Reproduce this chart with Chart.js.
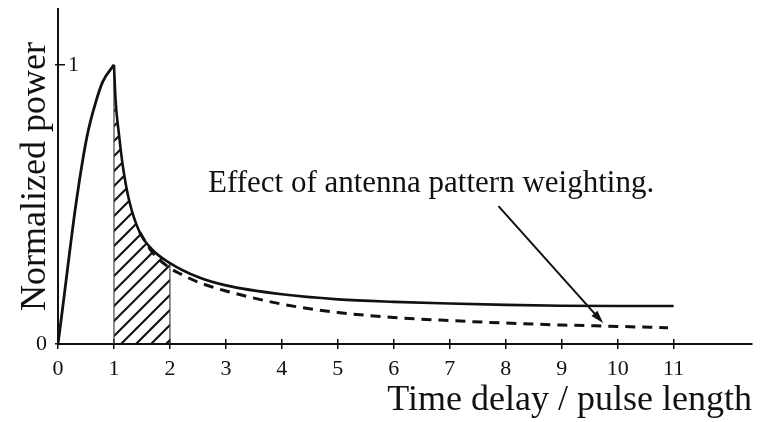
<!DOCTYPE html>
<html>
<head>
<meta charset="utf-8">
<script src="https://cdn.jsdelivr.net/npm/chart.js@4.4.0/dist/chart.umd.min.js"></script>
<style>
  html, body { margin: 0; padding: 0; background: #fff; }
  canvas { display: block; }
</style>
</head>
<body>
<canvas id="powerChart" width="773" height="422"></canvas>
<script>
// values (x = time delay / pulse length, y = normalized power)
var riseX = [0, 0.09, 0.32, 0.52, 0.68, 0.8, 1.0];
var riseY = [0, 0.14, 0.50, 0.745, 0.87, 0.94, 1.0];
var decayX = [1.0, 1.03, 1.09, 1.16, 1.27, 1.46, 1.7, 2.0, 2.5, 3, 4, 5, 6, 7, 8, 9, 10, 11];
var decayY = [1.0, 0.87, 0.75, 0.635, 0.515, 0.40, 0.335, 0.29, 0.24, 0.21, 0.178, 0.160, 0.151, 0.145, 0.140, 0.137, 0.136, 0.136];
var weightedX = [1.46, 1.7, 2.0, 2.2, 2.5, 3, 4, 5, 6, 7, 8, 9, 10, 10.9];
var weightedY = [0.40, 0.325, 0.272, 0.25, 0.222, 0.19, 0.143, 0.113, 0.095, 0.084, 0.075, 0.068, 0.063, 0.058];
var hatchFrom = 1, hatchTo = 2;
var xTicks = [0, 1, 2, 3, 4, 5, 6, 7, 8, 9, 10, 11];
var yTicksLeft = [0];
var yTicksRight = [1];

var noteText = 'Effect of antenna pattern weighting.';
var notePos = [2.68, 0.544];
var arrowFrom = [7.87, 0.494];
var arrowTo = [9.74, 0.075];

function pts(xs, ys) {
  return xs.map(function (x, i) { return {x: x, y: ys[i]}; });
}
function valueAt(x) {
  return decayY[decayX.indexOf(x)];
}
function noPad(s) {
  s.paddingTop = 0; s.paddingBottom = 0; s.paddingLeft = 0; s.paddingRight = 0;
}

// diagonal hatching for the shaded interval
var pc = document.createElement('canvas');
pc.width = 15; pc.height = 15;
var p = pc.getContext('2d');
p.strokeStyle = '#111';
p.lineWidth = 2.1;
p.beginPath();
p.moveTo(-2, 17); p.lineTo(17, -2);
p.moveTo(-9, 9); p.lineTo(9, -9);
p.moveTo(6, 24); p.lineTo(24, 6);
p.stroke();
var hatch = p.createPattern(pc, 'repeat');

var hatchData = pts(decayX, decayY).filter(function (d) { return d.x >= hatchFrom && d.x <= hatchTo; });
var edgeData = [
  {x: hatchFrom, y: 0}, {x: hatchFrom, y: valueAt(hatchFrom)}, {x: (hatchFrom + hatchTo) / 2, y: null},
  {x: hatchTo, y: 0}, {x: hatchTo, y: valueAt(hatchTo)}
];

var notePlugin = {
  id: 'note',
  afterDatasetsDraw: function (chart) {
    var c = chart.ctx, xs = chart.scales.x, ys = chart.scales.y;
    c.save();
    c.fillStyle = '#111';
    c.font = '31px "Liberation Serif"';
    c.textBaseline = 'alphabetic';
    c.fillText(noteText, xs.getPixelForValue(notePos[0]), ys.getPixelForValue(notePos[1]));
    var x1 = xs.getPixelForValue(arrowFrom[0]), y1 = ys.getPixelForValue(arrowFrom[1]);
    var x2 = xs.getPixelForValue(arrowTo[0]), y2 = ys.getPixelForValue(arrowTo[1]);
    var a = Math.atan2(y2 - y1, x2 - x1);
    c.strokeStyle = '#111';
    c.lineWidth = 2;
    c.beginPath();
    c.moveTo(x1, y1);
    c.lineTo(x2 - 8 * Math.cos(a), y2 - 8 * Math.sin(a));
    c.stroke();
    c.beginPath();
    c.moveTo(x2, y2);
    c.lineTo(x2 - 13 * Math.cos(a) + 4 * Math.sin(a), y2 - 13 * Math.sin(a) - 4 * Math.cos(a));
    c.lineTo(x2 - 13 * Math.cos(a) - 4 * Math.sin(a), y2 - 13 * Math.sin(a) + 4 * Math.cos(a));
    c.closePath();
    c.fill();
    c.restore();
  }
};

Chart.defaults.font.family = '"Liberation Serif", "Times New Roman", serif';
Chart.defaults.color = '#111';

new Chart(document.getElementById('powerChart'), {
  type: 'line',
  data: {
    datasets: [
      { data: pts(riseX, riseY), borderColor: '#111', borderWidth: 2.8, cubicInterpolationMode: 'monotone' },
      { data: pts(decayX, decayY), borderColor: '#111', borderWidth: 2.6, cubicInterpolationMode: 'monotone' },
      { data: pts(weightedX, weightedY), borderColor: '#111', borderWidth: 3, borderDash: [10, 7], cubicInterpolationMode: 'monotone' },
      { data: edgeData, borderColor: '#444', borderWidth: 1.2, spanGaps: false },
      { data: hatchData, borderWidth: 0, fill: 'origin', backgroundColor: hatch, cubicInterpolationMode: 'monotone' }
    ]
  },
  options: {
    responsive: false,
    animation: false,
    parsing: false,
    elements: { point: { radius: 0 } },
    layout: { padding: { top: 9, right: 21, bottom: 0, left: 0 } },
    plugins: { legend: { display: false }, tooltip: { enabled: false } },
    scales: {
      x: {
        type: 'linear', min: 0, max: 12.4, weight: 1,
        afterBuildTicks: function (s) { s.ticks = xTicks.map(function (v) { return {value: v}; }); },
        afterFit: function (s) { s.height = 78; noPad(s); },
        border: { display: true, color: '#111', width: 2 },
        grid: { drawOnChartArea: false, drawTicks: true, tickLength: 5, color: '#111', lineWidth: 1.5 },
        ticks: { font: { size: 22 }, padding: 7, maxRotation: 0, autoSkip: false },
        title: { display: true, text: 'Time delay / pulse length', align: 'end', font: { size: 36 }, padding: { top: 0, bottom: 0 } }
      },
      x2: {
        type: 'linear', position: 'bottom', min: 0, max: 12.4, weight: 0,
        afterBuildTicks: function (s) { s.ticks = xTicks.map(function (v) { return {value: v}; }); },
        afterFit: function (s) { s.height = 0; noPad(s); },
        border: { display: false },
        grid: { drawOnChartArea: false, drawTicks: true, tickLength: -5, color: '#111', lineWidth: 1.5 },
        ticks: { display: false }
      },
      y: {
        type: 'linear', min: 0, max: 1.2, weight: 1,
        afterBuildTicks: function (s) { s.ticks = yTicksLeft.concat(yTicksRight).map(function (v) { return {value: v}; }); },
        afterFit: function (s) { s.width = 58; noPad(s); },
        border: { display: true, color: '#111', width: 2 },
        grid: { drawOnChartArea: false, drawTicks: true, tickLength: 3, color: '#111', lineWidth: 1.5 },
        ticks: {
          font: { size: 22 }, padding: 8,
          callback: function (v) { return yTicksLeft.indexOf(v) >= 0 ? String(v) : ''; }
        },
        title: { display: true, text: 'Normalized power', font: { size: 36 }, padding: { top: 14, bottom: 0 } }
      },
      y2: {
        type: 'linear', position: 'left', min: 0, max: 1.2, weight: 0,
        afterBuildTicks: function (s) { s.ticks = yTicksRight.map(function (v) { return {value: v}; }); },
        afterFit: function (s) { s.width = 0; noPad(s); },
        border: { display: false },
        grid: { drawOnChartArea: false, drawTicks: true, tickLength: -7, color: '#111', lineWidth: 1.5 },
        ticks: { mirror: true, padding: 10, font: { size: 22 } }
      }
    }
  },
  plugins: [notePlugin]
});
</script>
</body>
</html>
